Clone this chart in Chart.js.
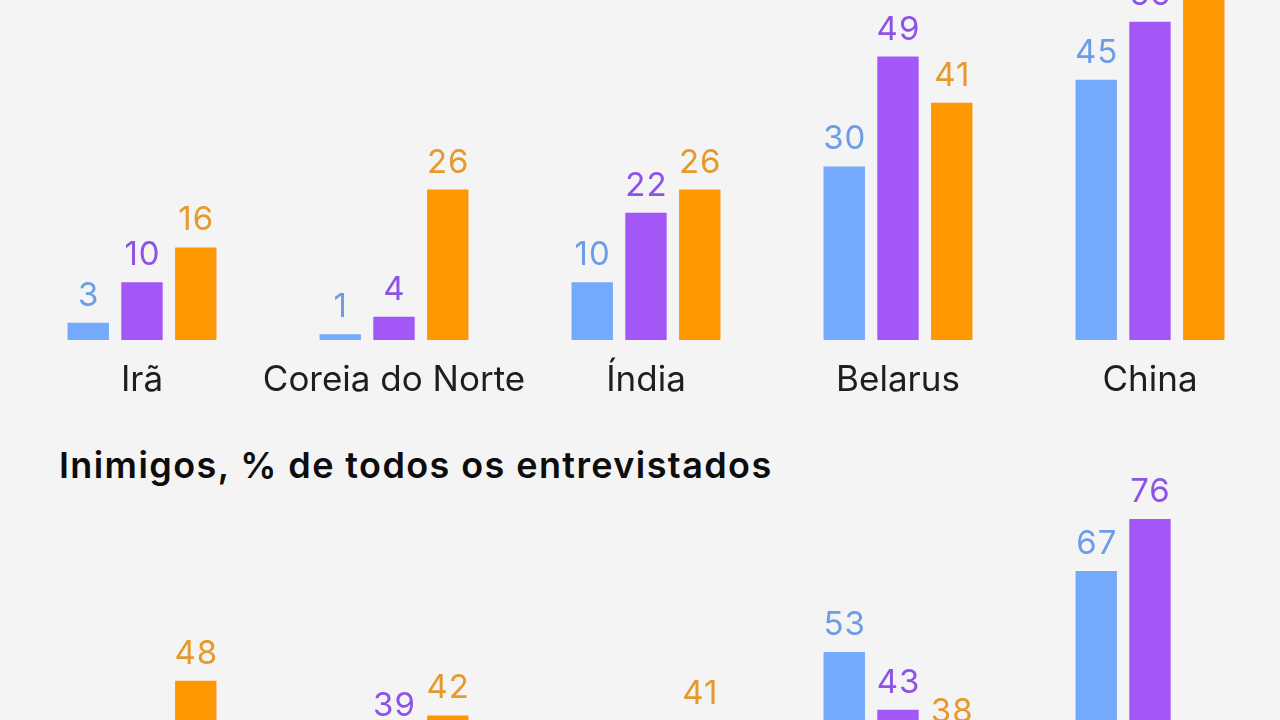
<!DOCTYPE html>
<html>
<head>
<meta charset="utf-8">
<script src="https://cdn.jsdelivr.net/npm/chart.js@4.4.1/dist/chart.umd.min.js"></script>
<style>
  html, body { margin: 0; padding: 0; width: 1280px; height: 720px; overflow: hidden; background: #f4f4f4; }
  .wrap { position: absolute; left: 0; width: 1280px; }
  #topWrap { top: -65px; height: 465px; }
  #botWrap { top: 436px; height: 582px; }
  h2 { position: absolute; left: 59px; top: 447px; margin: 0; line-height: 1; font-family: Inter, "Noto Sans", sans-serif; font-weight: 600; font-size: 36px; color: #0d0d0d; letter-spacing: 1.4px; }
</style>
</head>
<body>
<h2>Inimigos, % de todos os entrevistados</h2>
<div class="wrap" id="topWrap"><canvas id="topChart"></canvas></div>
<div class="wrap" id="botWrap"><canvas id="botChart"></canvas></div>
<script>
// ---- data (top chart: friends) ----
const friendCategories = ['Irã', 'Coreia do Norte', 'Índia', 'Belarus', 'China'];
const friendSeriesA = [3, 1, 10, 30, 45];
const friendSeriesB = [10, 4, 22, 49, 55];
const friendSeriesC = [16, 26, 26, 41, 64];   // China value runs off the top of the crop (estimated)

// ---- data (bottom chart: enemies; category labels and some bars lie below the crop) ----
const enemyCategories = ['', '', '', '', ''];
const enemySeriesA = [null, null, null, 53, 67];
const enemySeriesB = [null, 39, null, 43, 76];
const enemySeriesC = [48, 42, 41, 38, null];

const barColors = ['#74a9fb', '#a457f7', '#ff9800'];
const labelColors = ['#6d9de6', '#8f52e6', '#e69a2e'];
const FONT = 'Inter, "Noto Sans", sans-serif';

const valueLabels = {
  id: 'valueLabels',
  afterDatasetsDraw(chart) {
    const ctx = chart.ctx;
    ctx.save();
    ctx.font = '400 33px ' + FONT;
    try { ctx.letterSpacing = '1px'; } catch (e) {}
    ctx.textAlign = 'center';
    ctx.textBaseline = 'alphabetic';
    chart.data.datasets.forEach((ds, di) => {
      const meta = chart.getDatasetMeta(di);
      ctx.fillStyle = labelColors[di];
      meta.data.forEach((el, i) => {
        const v = ds.data[i];
        if (v === null || v === undefined) return;
        ctx.fillText(String(v), el.x + 0.5, el.y - 17);
      });
    });
    ctx.restore();
  }
};

function makeChart(id, cats, a, b, c, ymax, padTop) {
  const sets = [a, b, c].map((d, i) => ({
    data: d,
    backgroundColor: barColors[i],
    borderWidth: 0,
    categoryPercentage: 0.64,
    barPercentage: 0.77
  }));
  return new Chart(document.getElementById(id), {
    type: 'bar',
    data: { labels: cats, datasets: sets },
    options: {
      responsive: true,
      maintainAspectRatio: false,
      animation: false,
      layout: { padding: { left: 16, right: 4, top: padTop, bottom: 0 } },
      plugins: { legend: { display: false }, tooltip: { enabled: false } },
      scales: {
        x: {
          grid: { display: false, drawTicks: false },
          border: { display: false },
          ticks: { color: '#1e1e1e', font: { family: FONT, size: 35, weight: '400' }, padding: 19, maxRotation: 0, autoSkip: false },
          afterFit(scale) { scale.height = 60; }
        },
        y: { display: false, min: 0, max: ymax }
      }
    },
    plugins: [valueLabels]
  });
}

makeChart('topChart', friendCategories, friendSeriesA, friendSeriesB, friendSeriesC, 70, 0);
makeChart('botChart', enemyCategories, enemySeriesA, enemySeriesB, enemySeriesC, 80, 60);
</script>
</body>
</html>
